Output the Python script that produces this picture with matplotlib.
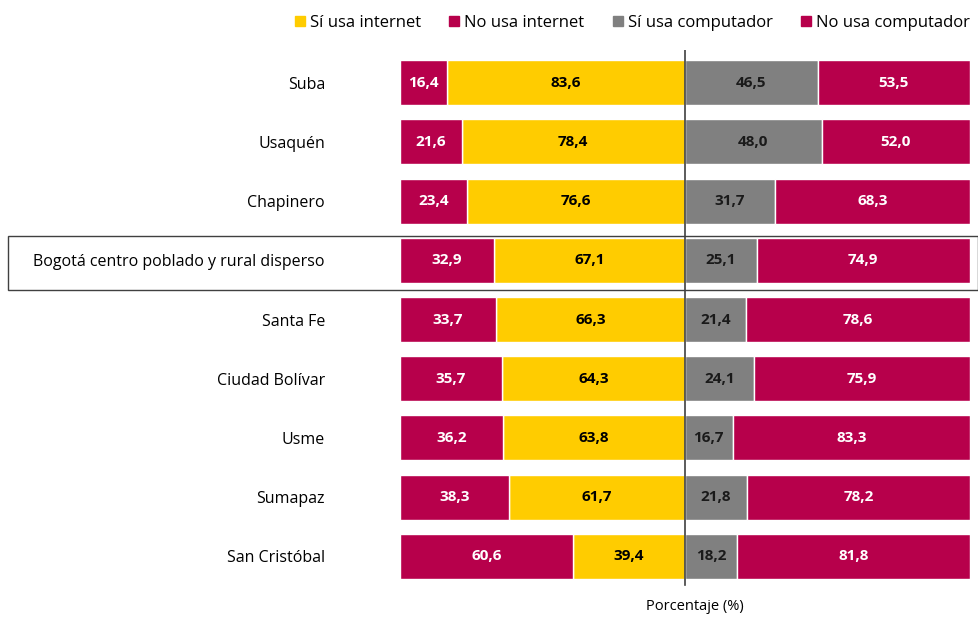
import matplotlib
matplotlib.use("Agg")
import matplotlib.pyplot as plt
from matplotlib.patches import Rectangle
from matplotlib.lines import Line2D

plt.rcParams['font.family'] = ['Open Sans', 'DejaVu Sans']

localidades = ["Suba", "Usaquén", "Chapinero", "Bogotá centro poblado y rural disperso",
               "Santa Fe", "Ciudad Bolívar", "Usme", "Sumapaz", "San Cristóbal"]
si_internet = [83.6, 78.4, 76.6, 67.1, 66.3, 64.3, 63.8, 61.7, 39.4]
no_internet = [16.4, 21.6, 23.4, 32.9, 33.7, 35.7, 36.2, 38.3, 60.6]
si_computador = [46.5, 48.0, 31.7, 25.1, 21.4, 24.1, 16.7, 21.8, 18.2]
no_computador = [53.5, 52.0, 68.3, 74.9, 78.6, 75.9, 83.3, 78.2, 81.8]

amarillo = "#FFCC00"
magenta = "#B7004B"
gris = "#808080"

fig = plt.figure(figsize=(9.79, 6.17), dpi=100)
ax = fig.add_axes([400 / 979, 1 - 589 / 617, 570 / 979, 539 / 617])

y = list(range(len(localidades)))
h = 0.76
fmt = lambda v: f"{v:.1f}".replace(".", ",")

ax.barh(y, [-v for v in si_internet], height=h, color=amarillo, edgecolor="white", linewidth=1)
ax.barh(y, [-v for v in no_internet], left=[-v for v in si_internet], height=h,
        color=magenta, edgecolor="white", linewidth=1)
ax.barh(y, si_computador, height=h, color=gris, edgecolor="white", linewidth=1)
ax.barh(y, no_computador, left=si_computador, height=h, color=magenta, edgecolor="white", linewidth=1)

for i in y:
    ax.text(-si_internet[i] / 2, i, fmt(si_internet[i]), ha="center", va="center",
            fontsize=11, fontweight="bold", color="black")
    ax.text(-si_internet[i] - no_internet[i] / 2, i, fmt(no_internet[i]), ha="center", va="center",
            fontsize=11, fontweight="bold", color="white")
    ax.text(si_computador[i] / 2, i, fmt(si_computador[i]), ha="center", va="center",
            fontsize=11, fontweight="bold", color="#1a1a1a")
    ax.text(si_computador[i] + no_computador[i] / 2, i, fmt(no_computador[i]), ha="center", va="center",
            fontsize=11, fontweight="bold", color="white")

ax.axvline(0, color="#404040", lw=1.2, ymin=0.007, ymax=1.0)
ax.set_xlim(-100, 100)
ax.set_ylim(len(localidades) - 0.45, -0.55)
ax.set_yticks(y)
ax.set_yticklabels(localidades, fontsize=11.5)
ax.tick_params(axis="y", length=0, pad=54)
ax.set_xticks([])
for s in ax.spines.values():
    s.set_visible(False)

fig.text(695 / 979, 1 - 607 / 617, "Porcentaje (%)", fontsize=10.5, ha="center", va="center")

# caja alrededor de la fila de Bogotá rural
fig.patches.append(Rectangle((8 / 979, 1 - 290 / 617), 970 / 979, 54 / 617,
                             transform=fig.transFigure, fill=False, edgecolor="#404040", lw=1))

handles = [Line2D([], [], marker="s", ls="", color=c, markersize=7)
           for c in [amarillo, magenta, gris, magenta]]
fig.legend(handles, ["Sí usa internet", "No usa internet", "Sí usa computador", "No usa computador"],
           loc="upper center", bbox_to_anchor=(0.645, 1.0), ncol=4, frameon=False,
           fontsize=12, handletextpad=0.2, columnspacing=1.6, handlelength=0.8)

fig.savefig("out.png", dpi=100)
